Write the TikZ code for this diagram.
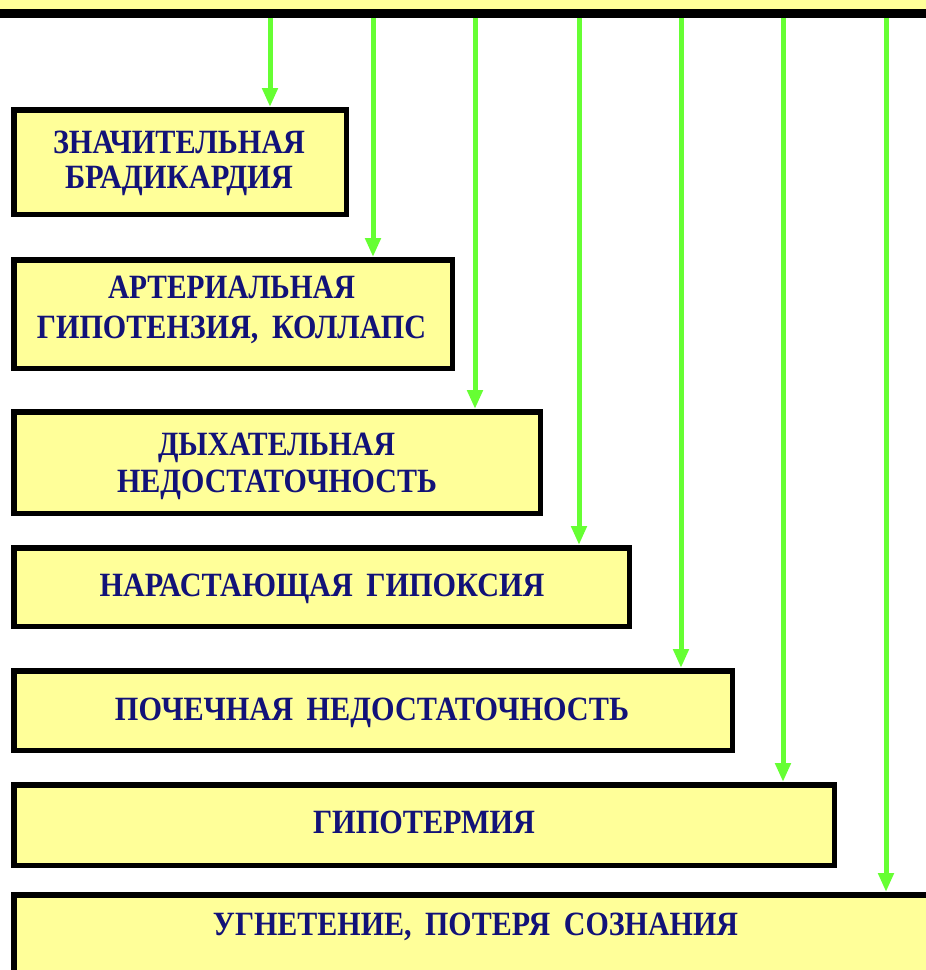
\documentclass[tikz,border=0pt]{standalone}
\usepackage{fontspec}
\setmainfont{Liberation Serif}
\usepackage{graphicx}
\usetikzlibrary{arrows.meta}
\definecolor{boxyellow}{RGB}{255,255,153}
\definecolor{arrgreen}{RGB}{102,255,51}
\definecolor{txtblue}{RGB}{18,18,120}
\newsavebox\fitbox
\newcommand\fitw[2]{\sbox\fitbox{#2}\pgfmathsetmacro\fitf{#1/\the\wd\fitbox}\scalebox{\fitf}[1]{\usebox\fitbox}}
\newcommand\wsp{\hspace{0.45em}}
\tikzset{
  stagebox/.style={draw=black, line width=5.5pt, fill=boxyellow, rectangle, inner sep=0pt},
  lbltext/.style={anchor=base, inner sep=0pt, text=txtblue, font=\fontsize{34}{40}\selectfont\bfseries},
  arr/.style={draw=arrgreen, line width=5pt, -{Triangle[width=15pt,length=19pt]}},
}
\begin{document}
\begin{tikzpicture}[x=1pt,y=-1pt]
\useasboundingbox (0,0) rectangle (926,970);
\clip (0,0) rectangle (926,970);
\fill[white] (0,0) rectangle (926,970);
% top bar
\node[stagebox, line width=9pt, minimum width=1000pt, minimum height=60pt, anchor=south] (top) at (463,18) {};
% boxes
\node[stagebox, minimum width=332.5pt, minimum height=104.5pt] (b1) at (180,162) {};
\node[stagebox, minimum width=438.5pt, minimum height=108.5pt] (b2) at (233,314) {};
\node[stagebox, minimum width=526.5pt, minimum height=101.5pt] (b3) at (277,462.5) {};
\node[stagebox, minimum width=615.5pt, minimum height=78.5pt] (b4) at (321.5,587) {};
\node[stagebox, minimum width=718.5pt, minimum height=79.5pt] (b5) at (373,710.5) {};
\node[stagebox, minimum width=820.5pt, minimum height=80.5pt] (b6) at (424,825) {};
\node[stagebox, minimum width=923.5pt, minimum height=92.5pt] (b7) at (475.5,941) {};
% arrows
\draw[arr] (top.south -| 270,0) -- (b1.north -| 270,0);
\draw[arr] (top.south -| 373,0) -- (b2.north -| 373,0);
\draw[arr] (top.south -| 475,0) -- (b3.north -| 475,0);
\draw[arr] (top.south -| 579,0) -- (b4.north -| 579,0);
\draw[arr] (top.south -| 681,0) -- (b5.north -| 681,0);
\draw[arr] (top.south -| 783,0) -- (b6.north -| 783,0);
\draw[arr] (top.south -| 886,0) -- (b7.north -| 886,0);
% texts
\node[lbltext] (t1a) at (179,153) {\fitw{252}{ЗНАЧИТЕЛЬНАЯ}};
\node[lbltext] (t1b) at (179,188) {\fitw{228}{БРАДИКАРДИЯ}};
\node[lbltext] (t2a) at (231.5,298) {\fitw{247}{АРТЕРИАЛЬНАЯ}};
\node[lbltext] (t2b) at (231.5,338) {\fitw{389}{ГИПОТЕНЗИЯ,\wsp КОЛЛАПС}};
\node[lbltext] (t3a) at (276.5,455) {\fitw{237}{ДЫХАТЕЛЬНАЯ}};
\node[lbltext] (t3b) at (277,492) {\fitw{320}{НЕДОСТАТОЧНОСТЬ}};
\node[lbltext] (t4) at (322,596) {\fitw{445}{НАРАСТАЮЩАЯ\wsp ГИПОКСИЯ}};
\node[lbltext] (t5) at (372,720) {\fitw{514}{ПОЧЕЧНАЯ\wsp НЕДОСТАТОЧНОСТЬ}};
\node[lbltext] (t6) at (424,833) {\fitw{222}{ГИПОТЕРМИЯ}};
\node[lbltext] (t7) at (475.5,935) {\fitw{525}{УГНЕТЕНИЕ,\wsp ПОТЕРЯ\wsp СОЗНАНИЯ}};
\end{tikzpicture}
\end{document}
